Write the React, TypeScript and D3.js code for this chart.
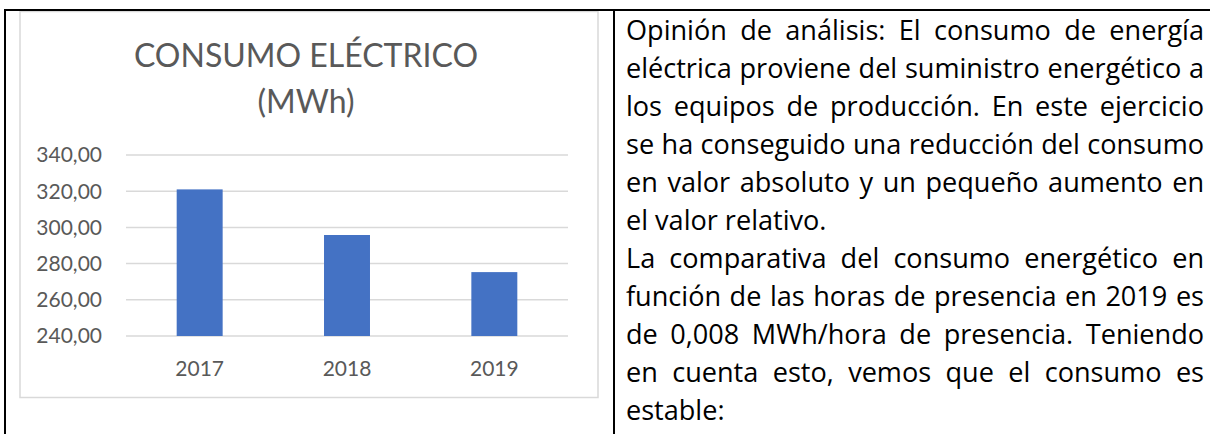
import React, { useEffect, useRef } from 'react';
import * as d3 from 'd3';

const years = ['2017', '2018', '2019'];
const consumo = [321.0, 295.8, 275.3];
const yTicks = [240, 260, 280, 300, 320, 340];
const titleLines = ['CONSUMO ELÉCTRICO', '(MWh)'];

// lines as broken in the original document; `last` lines are not justified
const bodyLines = [
  { text: 'Opinión de análisis: El consumo de energía', last: false },
  { text: 'eléctrica proviene del suministro energético a', last: false },
  { text: 'los equipos de producción. En este ejercicio', last: false },
  { text: 'se ha conseguido una reducción del consumo', last: false },
  { text: 'en valor absoluto y un pequeño aumento en', last: false },
  { text: 'el valor relativo.', last: true },
  { text: 'La comparativa del consumo energético en', last: false },
  { text: 'función de las horas de presencia en 2019 es', last: false },
  { text: 'de 0,008 MWh/hora de presencia. Teniendo', last: false },
  { text: 'en cuenta esto, vemos que el consumo es', last: false },
  { text: 'estable:', last: true },
];

const width = 1210;
const height = 434;
const font = 'Lato, "Open Sans", sans-serif';
const bodyFont = '"Open Sans", Lato, sans-serif';
const grey = '#595959';

const App = () => {
  const textRef = useRef<SVGGElement>(null);

  // plot area
  const plot = { left: 126, right: 568, top: 155, bottom: 336 };

  const x = d3.scaleBand()
    .domain(years)
    .range([plot.left, plot.right])
    .paddingInner(0.688)
    .paddingOuter(0.344);

  const y = d3.scaleLinear()
    .domain([240, 340])
    .range([plot.bottom, plot.top]);

  const fmt = (v: number) => d3.format('.2f')(v).replace('.', ',');

  useEffect(() => {
    const g = d3.select(textRef.current);
    g.selectAll('*').remove();

    const left = 626;
    const right = 1204;
    const w = right - left;
    const top = 40;
    const lineH = 38;
    let size = 22;

    // fit the tightest justified line to the column width
    const probe = g.append('text')
      .attr('font-family', bodyFont)
      .attr('font-size', size)
      .style('white-space', 'pre');
    let widest = 0;
    bodyLines.forEach(l => {
      if (l.last) return;
      probe.text(l.text);
      const len = (probe.node() as SVGTextElement).getComputedTextLength();
      widest = Math.max(widest, len);
    });
    probe.remove();
    if (widest > 0) size = size * (w - 2) / widest;

    bodyLines.forEach((l, i) => {
      const words = l.text.split(' ');
      const by = top + i * lineH;
      if (l.last) {
        g.append('text')
          .attr('x', left)
          .attr('y', by)
          .attr('font-family', bodyFont)
          .attr('font-size', size)
          .attr('fill', '#000')
          .text(l.text);
        return;
      }
      const nodes = words.map(wd => g.append('text')
        .attr('y', by)
        .attr('font-family', bodyFont)
        .attr('font-size', size)
        .attr('fill', '#000')
        .text(wd));
      const lens = nodes.map(n => (n.node() as SVGTextElement).getComputedTextLength());
      const total = d3.sum(lens);
      const gap = (w - total) / (words.length - 1);
      let cx = left;
      nodes.forEach((n, k) => {
        n.attr('x', cx);
        cx += lens[k] + gap;
      });
    });
  }, []);

  return (
    <svg width={width} height={height} style={{ position: 'absolute', left: 0, top: 0, display: 'block' }}>
      <rect x={0} y={0} width={width} height={height} fill="#fff" />

      {/* chart frame */}
      <rect x={20} y={11.5} width={578} height={386} fill="#fff" stroke="#d9d9d9" strokeWidth={1.5} />

      {/* title */}
      {titleLines.map((t, i) => (
        <text key={t} x={306} y={67 + i * 46} textAnchor="middle" fontFamily={font}
          fontWeight={400} fontSize={32} fill={grey}>{t}</text>
      ))}

      {/* gridlines + y labels */}
      {yTicks.map(t => (
        <g key={t}>
          <line x1={plot.left} x2={plot.right} y1={y(t)} y2={y(t)} stroke="#d9d9d9" strokeWidth={1.5} />
          <text x={102} y={y(t)} dy="0.35em" textAnchor="end" fontFamily={font} fontSize={21} fill={grey}>{fmt(t)}</text>
        </g>
      ))}

      {/* bars */}
      {years.map((yr, i) => (
        <rect key={yr} x={x(yr)} y={y(consumo[i])} width={x.bandwidth()}
          height={y(240) - y(consumo[i])} fill="#4472c4" />
      ))}

      {/* x labels */}
      {years.map(yr => (
        <text key={yr} x={(x(yr) ?? 0) + x.bandwidth() / 2} y={376} textAnchor="middle"
          fontFamily={font} fontSize={21} fill={grey}>{yr}</text>
      ))}

      {/* table borders */}
      <line x1={4} x2={width} y1={10} y2={10} stroke="#000" strokeWidth={2} />
      <line x1={5} x2={5} y1={9} y2={height} stroke="#000" strokeWidth={2} />
      <line x1={614} x2={614} y1={9} y2={height} stroke="#000" strokeWidth={2} />

      <g ref={textRef} />
    </svg>
  );
};

export default App;
